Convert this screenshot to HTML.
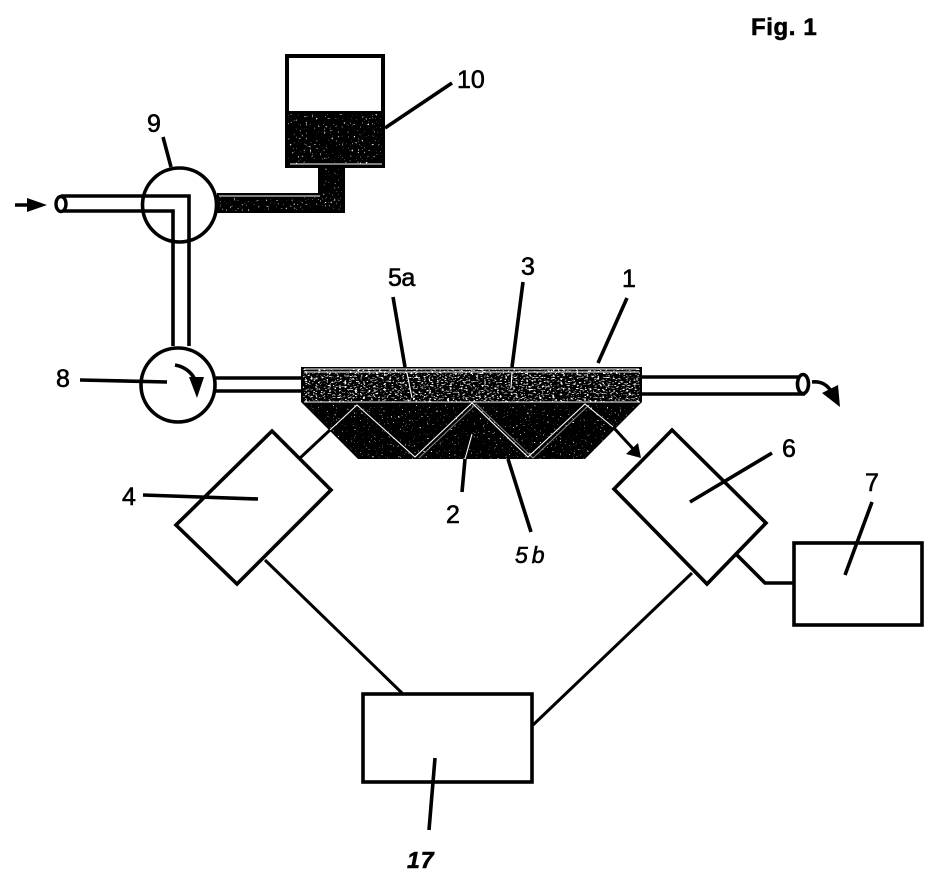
<!DOCTYPE html>
<html><head><meta charset="utf-8"><style>
html,body{margin:0;padding:0;background:#fff;width:933px;height:874px;overflow:hidden}
svg{display:block}
text{font-family:"Liberation Sans",sans-serif;fill:#000;stroke:#000;stroke-width:.6}
.l{fill:none;stroke:#000;stroke-width:3.6}
.t{fill:none;stroke:#000;stroke-width:3}
.w{fill:none;stroke:#fff;stroke-width:1.1}
</style></head><body>
<svg width="933" height="874" viewBox="0 0 933 874" xmlns="http://www.w3.org/2000/svg">
<defs>
<filter id="dense" x="0" y="0" width="1" height="1" color-interpolation-filters="sRGB">
<feTurbulence type="fractalNoise" baseFrequency="0.38 0.75" numOctaves="2" seed="4"/>
<feColorMatrix values="0 0 0 0 1 0 0 0 0 1 0 0 0 0 1 14 0 0 0 -8.2"/>
</filter>
<filter id="mid" x="0" y="0" width="1" height="1" color-interpolation-filters="sRGB">
<feTurbulence type="fractalNoise" baseFrequency="0.5" numOctaves="2" seed="9"/>
<feColorMatrix values="0 0 0 0 1 0 0 0 0 1 0 0 0 0 1 16 0 0 0 -11.2"/>
</filter>
<filter id="thin" x="0" y="0" width="1" height="1" color-interpolation-filters="sRGB">
<feTurbulence type="fractalNoise" baseFrequency="0.55" numOctaves="2" seed="17"/>
<feColorMatrix values="0 0 0 0 1 0 0 0 0 1 0 0 0 0 1 18 0 0 0 -13"/>
</filter>
<clipPath id="lower"><polygon points="305,404 638,404 585,459 358,459"/></clipPath>
</defs>

<!-- Tank 10 -->
<rect x="287" y="56" width="96" height="110" fill="#fff" stroke="#000" stroke-width="4"/>
<rect x="286" y="111" width="98" height="56" fill="#000"/>
<rect x="318" y="167" width="27" height="45" fill="#000"/>
<rect x="217" y="193" width="128" height="20" fill="#000"/>
<rect x="288" y="114" width="94" height="50" filter="url(#mid)"/>
<rect x="322" y="168" width="20" height="42" filter="url(#thin)"/>
<rect x="219" y="197" width="122" height="14" filter="url(#mid)"/>
<path d="M219 196H320M290 164H382" class="w"/>

<!-- Pipes -->
<path d="M61 196H189V346M61 211H173V346" class="l"/>
<ellipse cx="61" cy="204" rx="5" ry="7.5" fill="#fff" stroke="#000" stroke-width="3.4"/>
<path d="M15 205H32" class="l"/>
<polygon points="27,198 47,205 27,212" fill="#000"/>
<circle cx="179.500" cy="205" r="37" class="l"/>
<circle cx="178" cy="385" r="37" class="l" fill="#fff"/>
<path d="M216 378H302M216 391H302" class="l"/>
<path d="M642 377H805M642 394H805" class="l"/>
<ellipse cx="803" cy="384" rx="5.500" ry="9.500" fill="#fff" stroke="#000" stroke-width="3.6"/>
<path d="M812 382C821 381 828 385 832 393" class="l"/>
<polygon points="822,393 838,385 840,407" fill="#000"/>
<path d="M175 365C186 367 194 374 197 385" class="l"/>
<polygon points="189,377 204,377 197,398" fill="#000"/>

<!-- Main body -->
<polygon points="301,367 642,367 642,402 585,459 358,459 301,402" fill="#000"/>
<rect x="303" y="369" width="337" height="33" filter="url(#dense)"/>
<rect x="305" y="405" width="333" height="54" filter="url(#thin)" clip-path="url(#lower)"/>
<path d="M304 369H639M304 372H639M304 402H640" class="w"/>
<path d="M330 430L357 405L415 457L472 403L528 457L585 404L613 427" class="w"/>
<path d="M419 458L476 404L533 458L589 405" class="w" stroke-opacity=".5"/>

<!-- Diamonds and boxes -->
<polygon points="272,431 331,490 237,584 176,525" class="l" fill="#fff"/>
<polygon points="672,430 766,523 707,584 614,489" class="l" fill="#fff"/>
<rect x="794" y="543" width="128" height="82" class="l" fill="#fff"/>
<rect x="363" y="694" width="169" height="88" class="l" fill="#fff"/>

<!-- Connectors -->
<path d="M300 458L330 430" class="t"/>
<path d="M613 427L636 452" class="t"/>
<polygon points="626,454 638,443 641,458" fill="#000"/>
<path d="M737 555L765 583H793" class="l"/>
<path d="M692 573L533 725" class="t"/>
<path d="M265 560L402 693" class="t"/>

<!-- Leaders -->
<path d="M143 495L258 499" class="l"/>
<path d="M772 453L690 502" class="l"/>
<path d="M872 502L845 575" class="l"/>
<path d="M435 758L429 830" class="l"/>
<path d="M465 459L462 492" class="l" stroke-width="4"/>
<path d="M472 434L465 459" class="w" stroke-width="2"/>
<path d="M508 459L531 532" class="l"/>
<path d="M393 297L405 367" class="l" stroke-width="4"/>
<path d="M407 373L412 398" class="w"/>
<path d="M523 282L512 367" class="l" stroke-width="4"/>
<path d="M512 372L511 388" class="w"/>
<path d="M627 298L598 363" class="l" stroke-width="4"/>
<path d="M80 380L167 382" class="l"/>
<path d="M163 137L171 167" class="l"/>
<path d="M385 128L452 83" class="l"/>

<!-- Labels -->
<text x="751" y="35" font-size="24" font-weight="700" letter-spacing=".6">Fig. 1</text>
<text x="457" y="88" font-size="25">10</text>
<text x="147" y="132" font-size="25">9</text>
<text x="56" y="387" font-size="25">8</text>
<text x="122" y="505" font-size="25">4</text>
<text x="446" y="523" font-size="25">2</text>
<text x="521" y="275" font-size="25">3</text>
<text x="622" y="287" font-size="25">1</text>
<text x="782" y="457" font-size="25">6</text>
<text x="865" y="491" font-size="25">7</text>
<text x="388" y="286" font-size="25" letter-spacing="-.5">5a</text>
<text x="515" y="563" font-size="23" font-style="italic" letter-spacing="4">5b</text>
<text x="407" y="868" font-size="23" font-weight="700" font-style="italic" letter-spacing="1">17</text>
</svg>
</body></html>
